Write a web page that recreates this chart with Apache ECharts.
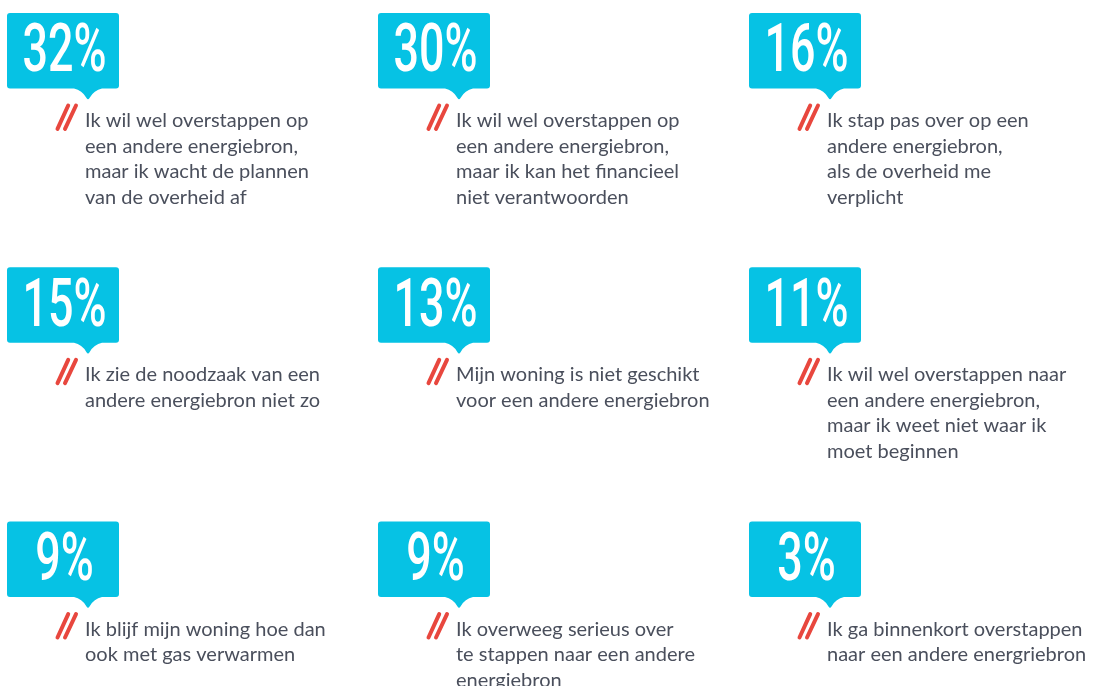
<!DOCTYPE html>
<html>
<head>
<meta charset="utf-8">
<script src="https://cdn.jsdelivr.net/npm/echarts@6/dist/echarts.min.js"></script>
<style>
html,body{margin:0;padding:0;background:#ffffff;}
#chart{width:1095px;height:686px;}
</style>
</head>
<body>
<div id="chart"></div>
<script>
// Data
var percentages = [32, 30, 16, 15, 13, 11, 9, 9, 3];
var columns = [0, 1, 2, 0, 1, 2, 0, 1, 2];
var rows = [0, 0, 0, 1, 1, 1, 2, 2, 2];
var statements = [
  ['Ik wil wel overstappen op', 'een andere energiebron,', 'maar ik wacht de plannen', 'van de overheid af'],
  ['Ik wil wel overstappen op', 'een andere energiebron,', 'maar ik kan het financieel', 'niet verantwoorden'],
  ['Ik stap pas over op een', 'andere energiebron,', 'als de overheid me', 'verplicht'],
  ['Ik zie de noodzaak van een', 'andere energiebron niet zo'],
  ['Mijn woning is niet geschikt', 'voor een andere energiebron'],
  ['Ik wil wel overstappen naar', 'een andere energiebron,', 'maar ik weet niet waar ik', 'moet beginnen'],
  ['Ik blijf mijn woning hoe dan', 'ook met gas verwarmen'],
  ['Ik overweeg serieus over', 'te stappen naar een andere', 'energiebron'],
  ['Ik ga binnenkort overstappen', 'naar een andere energriebron']
];

var seriesData = percentages.map(function (v, i) {
  return [columns[i], rows[i], v];
});

var CYAN = '#06c2e4';
var RED = '#e8473e';
var TEXT = '#4a4f5c';

var bubblePath = 'M3 0 H109 Q112 0 112 3 V72.5 Q112 75.5 109 75.5 H95 ' +
  'Q87 77 82.5 85 Q81 87.5 79.5 85 Q75 77 67 75.5 H3 Q0 75.5 0 72.5 V3 Q0 0 3 0 Z';

var chart = echarts.init(document.getElementById('chart'), null, {renderer: 'canvas'});
chart.setOption({
  backgroundColor: '#ffffff',
  animation: false,
  grid: {left: 7, width: 742, top: 12.9, height: 508.6, containLabel: false},
  xAxis: {type: 'value', min: 0, max: 2, show: false},
  yAxis: {type: 'value', min: 0, max: 2, inverse: true, show: false},
  series: [{
    type: 'custom',
    coordinateSystem: 'cartesian2d',
    clip: false,
    data: seriesData,
    renderItem: function (params, api) {
      var p = api.coord([api.value(0), api.value(1)]);
      var i = params.dataIndex;
      var v = api.value(2);
      return {
        type: 'group',
        x: p[0],
        y: p[1],
        children: [
          {type: 'path', shape: {pathData: bubblePath}, style: {fill: CYAN}},
          {
            type: 'text', x: 57.5, y: 42, scaleX: 0.68,
            style: {
              text: v + '%', fill: '#ffffff',
              font: '500 66px Roboto', align: 'center', verticalAlign: 'middle'
            }
          },
          {type: 'line', shape: {x1: 50.5, y1: 116, x2: 61.2, y2: 92.6},
            style: {stroke: RED, lineWidth: 4, lineCap: 'round'}},
          {type: 'line', shape: {x1: 58, y1: 116, x2: 69, y2: 92.6},
            style: {stroke: RED, lineWidth: 4, lineCap: 'round'}},
          {
            type: 'text', x: 78, y: 95,
            style: {
              text: statements[i].join('\n'), fill: TEXT,
              font: '20px Lato', lineHeight: 25.5,
              align: 'left', verticalAlign: 'top'
            }
          }
        ]
      };
    }
  }]
});
</script>
</body>
</html>
